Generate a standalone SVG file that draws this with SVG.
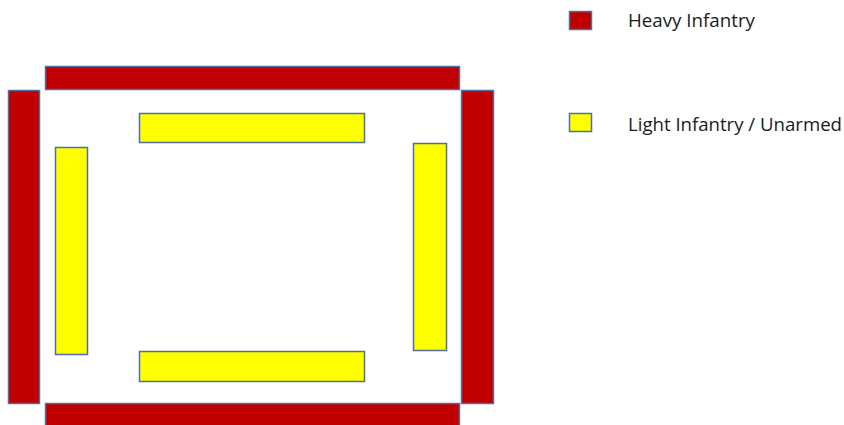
<svg xmlns="http://www.w3.org/2000/svg" width="844" height="425" viewBox="0 0 844 425">
<style>
.heavy{fill:#c00000;stroke:#4f6fa0;stroke-width:1.5}
.light{fill:#ffff00;stroke:#4f6fa0;stroke-width:1.5}
.lbl{font-family:"Open Sans","Liberation Sans",sans-serif;font-size:17.5px;fill:#1a1a1a}
</style>
<rect width="844" height="425" fill="#ffffff"/>
<g id="heavy-top"><rect class="heavy" x="45.5" y="66.5" width="414" height="23"/></g>
<g id="heavy-left"><rect class="heavy" x="8.5" y="90.5" width="31" height="313"/></g>
<g id="heavy-right"><rect class="heavy" x="461.5" y="90.5" width="32" height="313"/></g>
<g id="heavy-bottom"><rect class="heavy" x="45.5" y="403.5" width="414" height="24"/></g>
<g id="light-top"><rect class="light" x="139.5" y="113.5" width="225" height="29"/></g>
<g id="light-left"><rect class="light" x="55.5" y="147.5" width="32" height="207"/></g>
<g id="light-right"><rect class="light" x="413.5" y="143.5" width="33" height="207"/></g>
<g id="light-bottom"><rect class="light" x="139.5" y="351.5" width="225" height="30"/></g>
<g id="legend-heavy"><rect class="heavy" x="569.5" y="11.5" width="22" height="18"/><text class="lbl" x="628" y="27" textLength="127" lengthAdjust="spacingAndGlyphs">Heavy Infantry</text></g>
<g id="legend-light"><rect class="light" x="569.5" y="113.5" width="22" height="18"/><text class="lbl" x="628" y="131" textLength="214" lengthAdjust="spacingAndGlyphs">Light Infantry / Unarmed</text></g>
<g id="connectors"></g>
</svg>
